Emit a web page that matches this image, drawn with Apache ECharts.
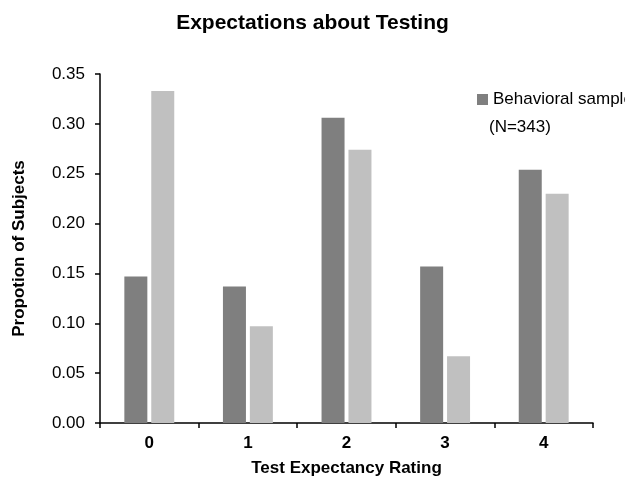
<!DOCTYPE html>
<html>
<head>
<meta charset="utf-8">
<script src="https://cdn.jsdelivr.net/npm/echarts@6/dist/echarts.min.js"></script>
<style>
  html, body { margin: 0; padding: 0; background: #fff; }
  #main { width: 625px; height: 483px; }
</style>
</head>
<body>
<div id="main"></div>
<script>
var ratings = ['0', '1', '2', '3', '4'];
var behavioral = [0.147, 0.137, 0.306, 0.157, 0.254];
var second = [0.333, 0.097, 0.274, 0.067, 0.230];
var yTicks = { min: 0, max: 0.35, interval: 0.05 };

var chartDom = document.getElementById('main');
var myChart = echarts.init(chartDom, null, { renderer: 'canvas' });
var font = 'Liberation Sans, Arial, sans-serif';
var option;
option = {
    animation: false,
    title: {
        text: 'Expectations about Testing',
        left: 'center',
        top: 8,
        textStyle: { fontFamily: font, fontSize: 21, fontWeight: 'bold', color: '#000' }
    },
    legend: {
        data: ['Behavioral sample'],
        icon: 'rect',
        left: 472,
        top: 86,
        itemWidth: 11,
        itemHeight: 11,
        itemGap: 6,
        textStyle: { fontFamily: font, fontSize: 17, color: '#000' }
    },
    graphic: [
        {
            type: 'text',
            left: 489,
            top: 119,
            style: { text: '(N=343)', font: '17px ' + font, fill: '#000' }
        }
    ],
    grid: { left: 100, right: 32, top: 74, bottom: 60, outerBoundsMode: 'none', containLabel: false },
    xAxis: {
        type: 'category',
        data: ratings,
        name: 'Test Expectancy Rating',
        nameLocation: 'middle',
        nameGap: 37,
        nameTextStyle: { fontFamily: font, fontSize: 17, fontWeight: 'bold', color: '#000' },
        axisLine: { lineStyle: { color: '#000', width: 1.5 } },
        axisTick: { show: true, length: 5, inside: false, lineStyle: { color: '#000', width: 1.5 } },
        axisLabel: { fontFamily: font, fontSize: 17, fontWeight: 'bold', color: '#000', margin: 12 }
    },
    yAxis: {
        type: 'value',
        min: yTicks.min,
        max: yTicks.max,
        interval: yTicks.interval,
        name: 'Propotion of Subjects',
        nameLocation: 'middle',
        nameGap: 72,
        nameTextStyle: { fontFamily: font, fontSize: 17, fontWeight: 'bold', color: '#000' },
        axisLine: { show: true, lineStyle: { color: '#000', width: 1.5 } },
        axisTick: { show: true, length: 5, lineStyle: { color: '#000', width: 1.5 } },
        splitLine: { show: false },
        axisLabel: {
            fontFamily: font, fontSize: 17, color: '#000', margin: 15,
            formatter: function (v) { return v.toFixed(2); }
        }
    },
    series: [
        {
            name: 'Behavioral sample',
            type: 'bar',
            data: behavioral,
            barWidth: 23,
            barGap: '17%',
            itemStyle: { color: '#7f7f7f' }
        },
        {
            name: 'Sample 2',
            type: 'bar',
            data: second,
            barWidth: 23,
            itemStyle: { color: '#c0c0c0' }
        }
    ]
};
option && myChart.setOption(option);
</script>
</body>
</html>
